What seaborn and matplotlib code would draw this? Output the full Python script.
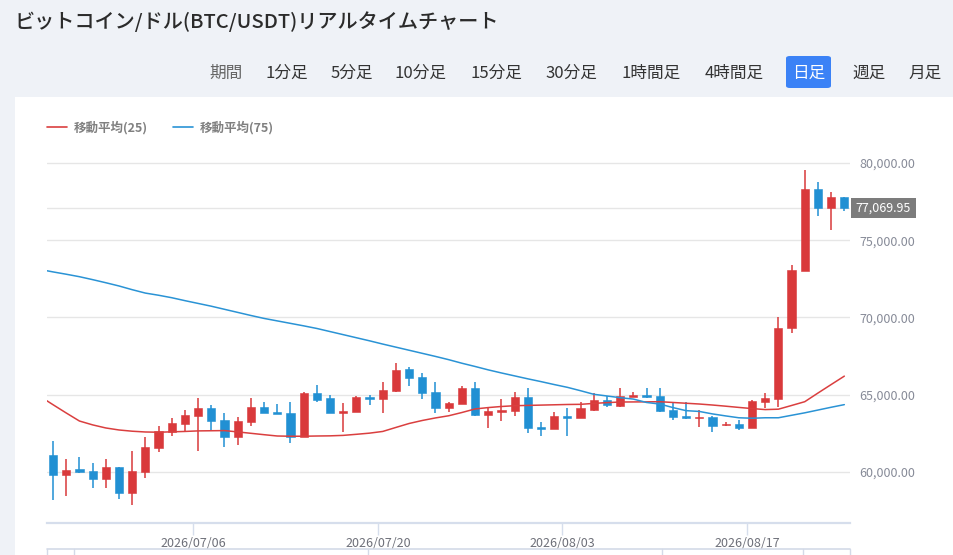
import numpy as np
import pandas as pd
import matplotlib
matplotlib.use("Agg")
import matplotlib.pyplot as plt
from matplotlib.patches import Rectangle, FancyBboxPatch
from matplotlib.lines import Line2D
from matplotlib.transforms import blended_transform_factory
import seaborn as sns

# ---------------- data ----------------
start_date = "2026-06-25"   # date of first visible daily candle
opens = [61100, 59780, 60190, 60080, 59560, 60320, 58660, 60030, 61540, 62610,
         63090, 63650, 64120, 63390, 62290, 63260, 64190, 63870, 63820, 62250,
         65110, 64770, 63800, 63900, 64830, 64720, 65260, 66660, 66120, 65150,
         64140, 64400, 65410, 63710, 63900, 63970, 64830, 62900, 62790, 63610,
         63480, 64030, 64660, 64290, 64870, 65000, 64900, 64030, 63610, 63500,
         63540, 63030, 63130, 62850, 64550, 64720, 69290, 73010, 78330, 77060,
         77770]
highs = [62010, 60810, 60960, 60580, 60810, 60350, 61390, 62250, 62960, 63480,
         64030, 64770, 64360, 63800, 63540, 64770, 64550, 64420, 64510, 65170,
         65650, 64980, 64450, 64900, 65000, 65800, 67030, 66770, 66380, 65800,
         64550, 65540, 65800, 64120, 64720, 65150, 65410, 63220, 63860, 64120,
         64550, 65110, 64940, 65410, 65190, 65410, 65410, 64510, 64510, 64030,
         63610, 63220, 63390, 64660, 65090, 70000, 73390, 79520, 78780, 78090,
         77770]
lows = [58160, 58420, 59930, 58960, 58960, 58270, 57840, 59610, 61280, 62360,
        62570, 61390, 62740, 61630, 61760, 63000, 63800, 63740, 61870, 62250,
        64550, 63800, 62610, 63900, 64360, 63800, 65190, 65580, 64720, 63800,
        63900, 64400, 63650, 62830, 63320, 63650, 62510, 62360, 62790, 62360,
        63480, 63970, 64230, 64230, 64870, 64770, 63900, 63370, 63430, 62940,
        62610, 62990, 62740, 62850, 64120, 64190, 68970, 73010, 76560, 75680,
        76880]
closes = [59780, 60160, 60030, 59560, 60320, 58660, 60080, 61610, 62660, 63160,
          63710, 64120, 63320, 62250, 63280, 64190, 63820, 63740, 62250, 65110,
          64680, 63820, 63930, 64830, 64720, 65320, 66610, 66080, 65090, 64140,
          64450, 65410, 63690, 63970, 64030, 64830, 62830, 62790, 63650, 63520,
          64120, 64660, 64340, 64900, 65000, 64870, 63970, 63580, 63480, 63560,
          63000, 63130, 62830, 64570, 64770, 69350, 73070, 78330, 77060, 77770,
          77069.95]
# moving averages, one value per day starting the day before the first visible candle
ma25 = [64900, 64355, 63820, 63300, 63050, 62850, 62720, 62640, 62590, 62575,
        62600, 62625, 62660, 62670, 62680, 62595, 62505, 62415, 62330, 62315,
        62315, 62330, 62340, 62370, 62440, 62515, 62625, 62885, 63140, 63335,
        63500, 63640, 63850, 64080, 64170, 64240, 64290, 64310, 64330, 64350,
        64370, 64380, 64440, 64490, 64530, 64535, 64540, 64550, 64500, 64450,
        64400, 64335, 64260, 64180, 64105, 64040, 64065, 64305, 64550, 65110,
        65660, 66205]
ma75 = [73110, 72950, 72800, 72640, 72450, 72250, 72040, 71800, 71580, 71440,
        71280, 71090, 70910, 70730, 70530, 70330, 70130, 69940, 69780, 69620,
        69460, 69290, 69090, 68890, 68690, 68490, 68280, 68080, 67880, 67680,
        67480, 67270, 67040, 66830, 66610, 66410, 66220, 66030, 65850, 65660,
        65480, 65260, 65030, 64920, 64810, 64720, 64500, 64400, 64170, 63970,
        63920, 63760, 63630, 63510, 63480, 63510, 63510, 63670, 63830, 64010,
        64190, 64360]
y_ticks = [60000, 65000, 70000, 75000, 80000]
x_tick_labels = ["2026/07/06", "2026/07/20", "2026/08/03", "2026/08/17"]
last_price = 77069.95
legend_labels = ["移動平均(25)", "移動平均(75)"]
title = "ビットコイン/ドル(BTC/USDT)リアルタイムチャート"
tabs = ["期間", "1分足", "5分足", "10分足", "15分足", "30分足",
        "1時間足", "4時間足", "日足", "週足", "月足"]
selected_tab = "日足"

# ---------------- style ----------------
sns.set_theme(style="white")
plt.rcParams["font.family"] = ["Noto Sans CJK JP", "DejaVu Sans"]

RED = "#d9393b"
BLUE = "#2190d3"
RED_MA = "#da3f3f"
BLUE_MA = "#2a93d5"
GRID = "#e6e6e6"
AXIS = "#d6deec"

W, H = 954, 555
def fx(x): return x / W
def fy(y): return 1 - y / H

fig = plt.figure(figsize=(W / 100, H / 100), dpi=100, facecolor="#eff2f7")

# white card
fig.add_artist(Rectangle((fx(15), 0), fx(953) - fx(15), fy(97), transform=fig.transFigure,
                         facecolor="white", edgecolor="none", zorder=-1))

# header title + tabs
fig.text(fx(14), fy(22), title, fontsize=14.5, color="#2b2b2b", va="center", ha="left",
         fontweight="medium")
tab_centers = [226.5, 287, 351.5, 421, 496.5, 571.5, 651.5, 734, 808.5, 869, 925]
for t, cx in zip(tabs, tab_centers):
    if t == selected_tab:
        fig.add_artist(FancyBboxPatch((fx(786), fy(88)), fx(831) - fx(786), fy(56) - fy(88),
                                      boxstyle="round,pad=0,rounding_size=0.004",
                                      transform=fig.transFigure, facecolor="#3b82f6",
                                      edgecolor="none", zorder=1))
        col = "white"
    elif t == "期間":
        col = "#666666"
    else:
        col = "#333333"
    fig.text(fx(cx), fy(73), t, fontsize=12, color=col, va="center", ha="center", zorder=2)

# ---------------- chart ----------------
ax = fig.add_axes([fx(47.5), fy(523.3), fx(850) - fx(47.5), fy(150) - fy(523.3)])
ax.set_facecolor("none")

o = np.array(opens, float)
c = np.array(closes, float)
hi = np.array(highs, float)
lo = np.array(lows, float)
idx = np.arange(len(o))
up = c >= o
cols = np.where(up, RED, BLUE)

ax.vlines(idx, lo, hi, colors=cols, lw=1.1, zorder=3)
ax.bar(idx, np.maximum(np.abs(c - o), 50), bottom=np.minimum(o, c), width=0.62,
       color=cols, edgecolor=cols, lw=0.4, zorder=4)

ma_idx = np.arange(-1, len(o))
sns.lineplot(x=ma_idx, y=ma25, ax=ax, color=RED_MA, lw=1.1, zorder=5, legend=False)
sns.lineplot(x=ma_idx, y=ma75, ax=ax, color=BLUE_MA, lw=1.1, zorder=5, legend=False)

ax.set_xlim(-0.42, 60.43)
ax.set_ylim(56680, 80840)

# y axis on the right
ax.set_yticks(y_ticks)
ax.set_yticklabels([f"{v:,.2f}" for v in y_ticks])
ax.yaxis.tick_right()
ax.tick_params(axis="y", length=0, pad=7, labelsize=9, labelcolor="#878b98")
ax.grid(axis="y", color=GRID, lw=1)
ax.grid(axis="x", visible=False)
ax.set_axisbelow(True)
ax.axhline(last_price, color=GRID, lw=1, zorder=1)

# last price tag
tr = blended_transform_factory(ax.transAxes, ax.transData)
box_left = (851 - 47.5) / (850 - 47.5)
box_w = (916 - 851) / (850 - 47.5)
px_per_usd = (523.3 - 150) / (80840 - 56680)
box_h = 20 / px_per_usd
ax.add_patch(Rectangle((box_left, last_price - box_h / 2), box_w, box_h, transform=tr,
                       facecolor="#7c7c7c", edgecolor="none", clip_on=False, zorder=6))
ax.text(box_left + box_w / 2, last_price, f"{last_price:,.2f}", transform=tr,
        ha="center", va="center", fontsize=9, color="white", zorder=7, clip_on=False)

# x axis (daily candles at 00:00 UTC, date ticks at 00:00 JST)
start = pd.Timestamp(start_date)
tick_pos = [(pd.Timestamp(s.replace("/", "-")) - start).days - 9 / 24 for s in x_tick_labels]
ax.set_xticks(tick_pos)
ax.set_xticklabels(x_tick_labels)
ax.tick_params(axis="x", direction="out", length=8.6, width=1, color=AXIS, pad=1,
               labelsize=9, labelcolor="#6e7079", bottom=True)

for s in ["top", "left", "right"]:
    ax.spines[s].set_visible(False)
ax.spines["bottom"].set_color(AXIS)
ax.spines["bottom"].set_linewidth(1.6)

# legend
handles = [Line2D([], [], color=RED_MA, lw=1.2), Line2D([], [], color=BLUE_MA, lw=1.2)]
leg = fig.legend(handles, legend_labels, loc="center left", bbox_to_anchor=(fx(47), fy(128)),
                 ncol=2, frameon=False, fontsize=9, handlelength=1.6, handletextpad=0.55,
                 columnspacing=2.0, borderpad=0, borderaxespad=0)
for t in leg.get_texts():
    t.set_color("#808080")
    t.set_fontweight("bold")

# data-zoom slider frame (cut off at the bottom)
SL = "#d3dae8"
fig.add_artist(Line2D([fx(47.5), fx(850)], [fy(548.5)] * 2, transform=fig.transFigure,
                      color=SL, lw=1.2))
for xv in [47.5, 74, 368, 662, 803, 850]:
    fig.add_artist(Line2D([fx(xv)] * 2, [fy(548.5), 0], transform=fig.transFigure,
                          color=SL, lw=1))

fig.savefig("out.png", dpi=100, facecolor=fig.get_facecolor())
